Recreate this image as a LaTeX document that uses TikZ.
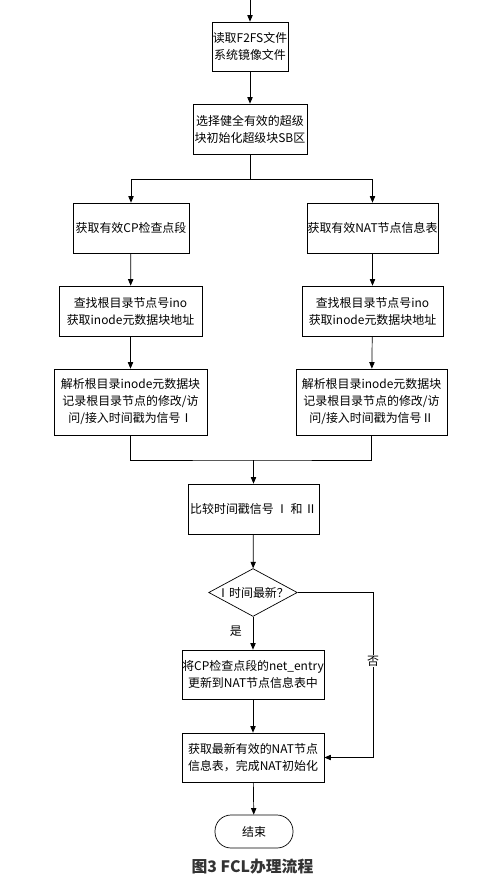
\documentclass[tikz,border=0pt]{standalone}
\usepackage{fontspec}
\setmainfont{Noto Sans CJK SC}
\usetikzlibrary{shapes.geometric,arrows.meta}
\definecolor{capgray}{HTML}{333333}

\begin{document}
\begin{tikzpicture}[x=0.03cm,y=-0.03cm,
  every node/.style={font=\fontsize{10.2}{14.5}\selectfont},
  box/.style={draw,line width=0.6pt,align=center,inner sep=0pt,minimum height=1.5cm},
  dec/.style={draw,diamond,line width=0.6pt,inner sep=0pt,inner xsep=-1.5pt,aspect=1.85},
  term/.style={draw,line width=0.6pt,rounded corners=0.48cm,minimum width=2.34cm,minimum height=0.99cm},
  arr/.style={-{Triangle[width=4.5pt,length=5.5pt]},line width=0.6pt},
  lin/.style={line width=0.6pt}]
\useasboundingbox (0,0) rectangle (485,884);
% main column
\coordinate (top) at (250,0);
\node[box,minimum width=2.28cm,minimum height=1.47cm] (read) at (250,46.5) {读取F2FS文件\\系统镜像文件};
\node[box,minimum width=3.42cm] (sb) at (250,129) {选择健全有效的超级\\块初始化超级块SB区};
\coordinate (split) at (250,179);
% left branch: CP
\node[box,minimum width=3.48cm] (cpseg) at (131,228) {获取有效CP检查点段};
\node[box,minimum width=4.29cm] (lino) at (130.5,311) {查找根目录节点号ino\\获取inode元数据块地址};
\node[box,minimum width=4.59cm,minimum height=1.98cm] (lsig) at (130.5,402) {解析根目录inode元数据块\\记录根目录节点的修改/访\\问/接入时间戳为信号Ⅰ};
% right branch: NAT
\node[box,minimum width=3.93cm] (natseg) at (372.5,228) {获取有效NAT节点信息表};
\node[box,minimum width=4.23cm] (rino) at (372.5,311) {查找根目录节点号ino\\获取inode元数据块地址};
\node[box,minimum width=4.53cm,minimum height=1.98cm] (rsig) at (371.5,402) {解析根目录inode元数据块\\记录根目录节点的修改/访\\问/接入时间戳为信号Ⅱ};
\coordinate (join) at (253.5,460);
% compare and decide
\node[box,minimum width=3.93cm] (cmp) at (253.5,509) {比较时间戳信号\hspace{0.2em}Ⅰ\hspace{0.2em}和\hspace{0.2em}Ⅱ};
\node[dec] (newest) at (253,592.5) {Ⅰ时间最新？};
\node[box,minimum width=4.26cm,minimum height=1.47cm] (upd) at (253,674.5) {将CP检查点段的net\_entry\\更新到NAT节点信息表中};
\node[box,minimum width=4.26cm,minimum height=1.47cm] (latest) at (253,757.5) {获取最新有效的NAT节点\\信息表，完成NAT初始化};
\node[term] (stop) at (254,831.5) {结束};
\coordinate (side) at (373,592.5);

\draw[arr] (top) -- (read);
\draw[arr] (read) -- (sb);
\draw[lin] (sb) -- (split);
\draw[arr] (split) -| (cpseg);
\draw[arr] (split) -| (natseg);
\draw[arr] (cpseg) -- (lino);
\draw[arr] (lino) -- (lsig);
\draw[arr] (natseg) -- (rino);
\draw[arr] (rino) -- (rsig);
\draw[lin] (lsig.south) |- (join) -| (rsig.south);
\draw[arr] (join) -- (cmp);
\draw[arr] (cmp) -- (newest);
\draw[arr] (newest) -- (upd) node[pos=0.45,left=6pt] (yes) {是};
\draw[arr] (newest.east) -- (side) |- (latest.east);
\node[fill=white,inner sep=1pt] (no) at (373,661) {否};
\draw[arr] (upd) -- (latest);
\draw[arr] (latest) -- (stop);

\node[font=\fontsize{13.5}{16}\selectfont\bfseries,text=capgray] (cap) at (252.5,867) {图3 FCL办理流程};
\end{tikzpicture}
\end{document}
